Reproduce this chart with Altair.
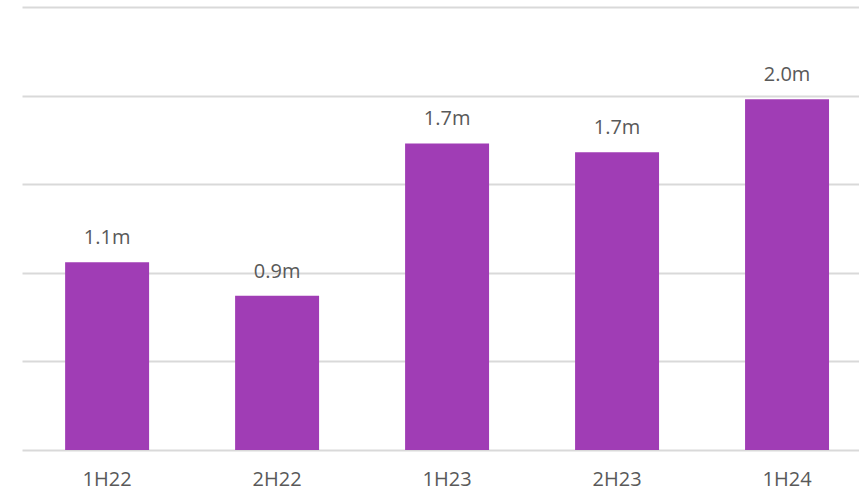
import altair as alt
import pandas as pd

periods = ["1H22", "2H22", "1H23", "2H23", "1H24"]
values = [1.06, 0.87, 1.73, 1.68, 1.98]
labels = ["1.1m", "0.9m", "1.7m", "1.7m", "2.0m"]

df = pd.DataFrame({"period": periods, "value": values, "label": labels})

FONT = "Open Sans"
GRAY = "#595959"

x = alt.X("period:N", sort=periods, title=None,
          scale=alt.Scale(paddingInner=0.506, paddingOuter=0.215, align=0.59),
          axis=alt.Axis(labelAngle=0, labelFont=FONT, labelFontSize=20, labelColor=GRAY,
                        labelPadding=19, ticks=False, domain=False, grid=False))
y = alt.Y("value:Q", title=None,
          scale=alt.Scale(domain=[0, 2.5], nice=False),
          axis=alt.Axis(values=[0, 0.5, 1, 1.5, 2, 2.5], labels=False, ticks=False,
                        domain=False, grid=True, gridColor="#d9d9d9", gridWidth=2))

bars = alt.Chart(df).mark_bar(color="#a03db5").encode(x=x, y=y)
text = alt.Chart(df).mark_text(baseline="alphabetic", dy=-18, font=FONT, fontSize=20,
                               color=GRAY).encode(x=x, y=y, text="label:N")

chart = (bars + text).properties(
    width=859, height=492,
    autosize=alt.AutoSizeParams(type="fit", contains="padding"),
    padding={"left": 22, "top": 7, "right": 0, "bottom": 3},
).configure_view(stroke=None)

chart.save("out.html", embed_options={"renderer": "svg", "actions": False})
